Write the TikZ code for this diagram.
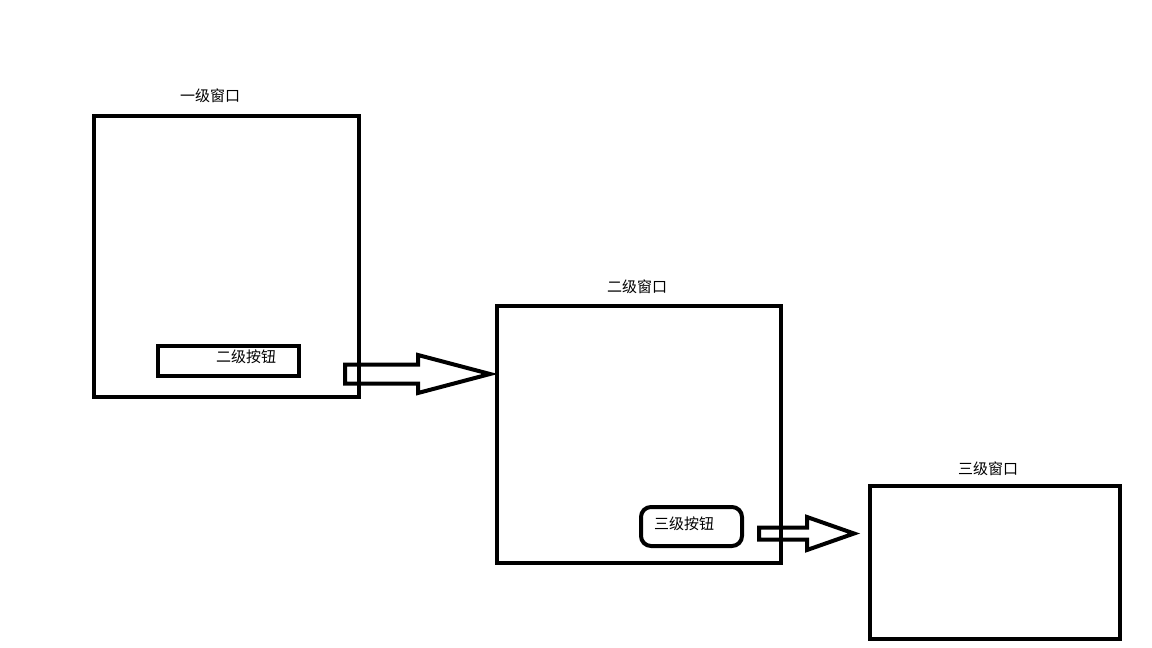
\documentclass[tikz,border=0pt]{standalone}
\usepackage{fontspec}
\setmainfont{Noto Sans CJK SC}
\begin{document}
\begin{tikzpicture}[x=1pt,y=-1pt,
  win/.style={draw=black,line width=4pt,inner sep=0pt},
  btn/.style={draw=black,line width=4pt,inner sep=0pt},
  lbl/.style={font=\fontsize{15}{17}\selectfont,inner sep=0pt},
  fat/.style={draw=black,line width=4pt,line join=miter}]
\useasboundingbox[fill=white] (0,0) rectangle (1152,648);
% windows
\node[win,minimum width=265pt,minimum height=281pt] (w1) at (226.5,256.5) {};
\node[win,minimum width=284pt,minimum height=257pt] (w2) at (639,434.5) {};
\node[win,minimum width=250pt,minimum height=153pt] (w3) at (995,562.5) {};
% titles
\node[lbl] (t1) at (210,96) {一级窗口};
\node[lbl] (t2) at (637,287) {二级窗口};
\node[lbl] (t3) at (988,469) {三级窗口};
% buttons
\node[btn,minimum width=141pt,minimum height=30pt] (b1) at (228.5,361) {};
\node[lbl] (b1t) at (246,357) {二级按钮};
\node[btn,rounded corners=10pt,minimum width=101pt,minimum height=39pt] (b2) at (691.5,526.5) {};
\node[lbl] (b2t) at (684,524) {三级按钮};
% arrow 1
\coordinate (a1s) at (345,374);
\coordinate (a1e) at (490,374);
\draw[fat] (a1s) ++(0,-9.5) -- ++(73,0) -- ++(0,-9.5) -- (a1e) -- ++(-72,19) -- ++(0,-9.5) -- ++(-73,0) -- cycle;
% arrow 2
\coordinate (a2s) at (759,533.5);
\coordinate (a2e) at (854,533.5);
\draw[fat] (a2s) ++(0,-6) -- ++(48,0) -- ++(0,-10.5) -- (a2e) -- ++(-47,16.5) -- ++(0,-10.5) -- ++(-48,0) -- cycle;
\end{tikzpicture}
\end{document}
